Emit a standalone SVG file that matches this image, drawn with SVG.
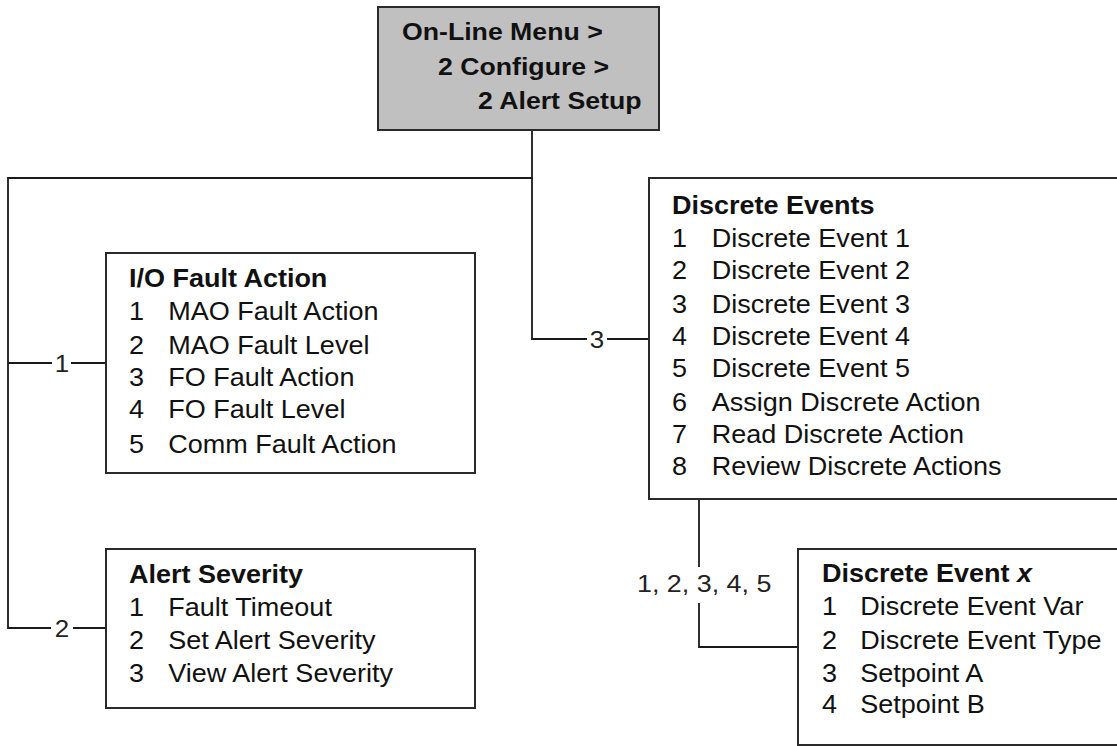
<svg xmlns="http://www.w3.org/2000/svg" width="1117" height="746" viewBox="0 0 1117 746">
<style>
  .box { fill: #ffffff; stroke: #2a2a2a; stroke-width: 2; }
  .root { fill: #c0c0c0; stroke: #2a2a2a; stroke-width: 2; }
  .ln { fill: none; stroke: #1a1a1a; stroke-width: 1.8; }
  text { font-family: "Liberation Sans", Arial, sans-serif; fill: #111111; }
  .t { font-size: 25px; font-weight: bold; }
  .i { font-size: 25.5px; }
  .h { font-size: 23px; font-weight: bold; }
  .lbl { font-size: 24px; fill: #222222; }
</style>
<g id="connectors">
  <polyline class="ln" points="532,130 532,178 8,178 8,628 51,628"/>
  <line class="ln" x1="73" y1="628" x2="106" y2="628"/>
  <polyline class="ln" points="8,363 52,363"/>
  <line class="ln" x1="71" y1="363" x2="106" y2="363"/>
  <polyline class="ln" points="532,178 532,339 587,339"/>
  <line class="ln" x1="607" y1="339" x2="649" y2="339"/>
  <line class="ln" x1="699" y1="499" x2="699" y2="567"/>
  <polyline class="ln" points="699,603 699,647 798,647"/>
  <text class="lbl" transform="translate(62,372) scale(1.08 1)" text-anchor="middle">1</text>
  <text class="lbl" transform="translate(62,637) scale(1.08 1)" text-anchor="middle">2</text>
  <text class="lbl" transform="translate(597,348) scale(1.08 1)" text-anchor="middle">3</text>
  <text class="lbl" transform="translate(637,592) scale(1.12 1)">1, 2, 3, 4, 5</text>
</g>
<g id="root">
  <rect class="root" x="378" y="7" width="281" height="123"/>
  <text class="h" transform="translate(402,40) scale(1.16 1)">On-Line Menu &gt;</text>
  <text class="h" transform="translate(438,75) scale(1.16 1)">2 Configure &gt;</text>
  <text class="h" transform="translate(478,109) scale(1.16 1)">2 Alert Setup</text>
</g>
<g id="io-fault-action">
  <rect class="box" x="106" y="253" width="369" height="220"/>
  <text class="t" transform="translate(129,287) scale(1.08 1)">I/O Fault Action</text>
  <text class="i" transform="translate(129,320) scale(1.06 1)"><tspan x="0">1</tspan><tspan x="37">MAO Fault Action</tspan></text>
  <text class="i" transform="translate(129,354) scale(1.06 1)"><tspan x="0">2</tspan><tspan x="37">MAO Fault Level</tspan></text>
  <text class="i" transform="translate(129,386) scale(1.06 1)"><tspan x="0">3</tspan><tspan x="37">FO Fault Action</tspan></text>
  <text class="i" transform="translate(129,418) scale(1.06 1)"><tspan x="0">4</tspan><tspan x="37">FO Fault Level</tspan></text>
  <text class="i" transform="translate(129,453) scale(1.06 1)"><tspan x="0">5</tspan><tspan x="37">Comm Fault Action</tspan></text>
</g>
<g id="alert-severity">
  <rect class="box" x="106" y="549" width="369" height="159"/>
  <text class="t" transform="translate(129,583) scale(1.08 1)">Alert Severity</text>
  <text class="i" transform="translate(129,616) scale(1.06 1)"><tspan x="0">1</tspan><tspan x="37">Fault Timeout</tspan></text>
  <text class="i" transform="translate(129,649) scale(1.06 1)"><tspan x="0">2</tspan><tspan x="37">Set Alert Severity</tspan></text>
  <text class="i" transform="translate(129,682) scale(1.06 1)"><tspan x="0">3</tspan><tspan x="37">View Alert Severity</tspan></text>
</g>
<g id="discrete-events">
  <rect class="box" x="649" y="178" width="480" height="321"/>
  <text class="t" transform="translate(672,214) scale(1.08 1)">Discrete Events</text>
  <text class="i" transform="translate(672,247) scale(1.06 1)"><tspan x="0">1</tspan><tspan x="37.5">Discrete Event 1</tspan></text>
  <text class="i" transform="translate(672,279) scale(1.06 1)"><tspan x="0">2</tspan><tspan x="37.5">Discrete Event 2</tspan></text>
  <text class="i" transform="translate(672,313) scale(1.06 1)"><tspan x="0">3</tspan><tspan x="37.5">Discrete Event 3</tspan></text>
  <text class="i" transform="translate(672,345) scale(1.06 1)"><tspan x="0">4</tspan><tspan x="37.5">Discrete Event 4</tspan></text>
  <text class="i" transform="translate(672,377) scale(1.06 1)"><tspan x="0">5</tspan><tspan x="37.5">Discrete Event 5</tspan></text>
  <text class="i" transform="translate(672,411) scale(1.06 1)"><tspan x="0">6</tspan><tspan x="37.5">Assign Discrete Action</tspan></text>
  <text class="i" transform="translate(672,443) scale(1.06 1)"><tspan x="0">7</tspan><tspan x="37.5">Read Discrete Action</tspan></text>
  <text class="i" transform="translate(672,475) scale(1.06 1)"><tspan x="0">8</tspan><tspan x="37.5">Review Discrete Actions</tspan></text>
</g>
<g id="discrete-event-x">
  <rect class="box" x="798" y="549" width="330" height="196"/>
  <text class="t" transform="translate(822,582) scale(1.08 1)">Discrete Event <tspan font-style="italic">x</tspan></text>
  <text class="i" transform="translate(822,615) scale(1.06 1)"><tspan x="0">1</tspan><tspan x="36">Discrete Event Var</tspan></text>
  <text class="i" transform="translate(822,649) scale(1.06 1)"><tspan x="0">2</tspan><tspan x="36">Discrete Event Type</tspan></text>
  <text class="i" transform="translate(822,682) scale(1.06 1)"><tspan x="0">3</tspan><tspan x="36">Setpoint A</tspan></text>
  <text class="i" transform="translate(822,713) scale(1.06 1)"><tspan x="0">4</tspan><tspan x="36">Setpoint B</tspan></text>
</g>
</svg>
